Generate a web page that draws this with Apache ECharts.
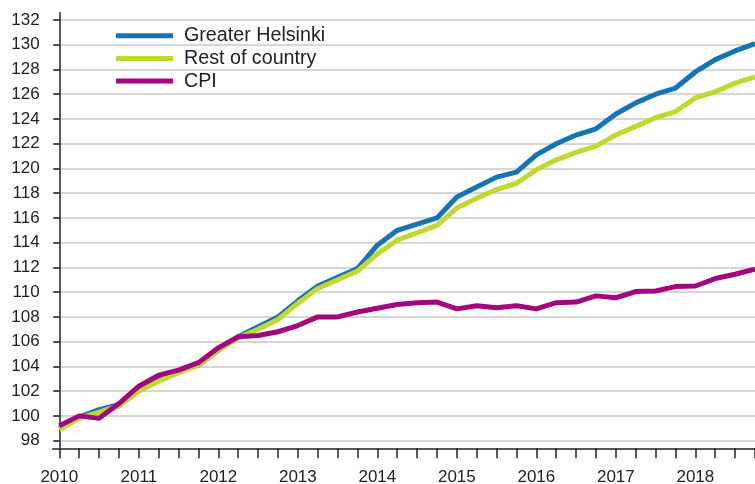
<!DOCTYPE html>
<html><head><meta charset="utf-8">
<script src="https://cdn.jsdelivr.net/npm/echarts@6/dist/echarts.min.js"></script>
<style>html,body{margin:0;padding:0;background:#fff}#c{width:755px;height:484px}</style>
</head><body><div id="c"></div>
<script>
const quarters = ['2010Q1','2010Q2','2010Q3','2010Q4','2011Q1','2011Q2','2011Q3','2011Q4',
  '2012Q1','2012Q2','2012Q3','2012Q4','2013Q1','2013Q2','2013Q3','2013Q4',
  '2014Q1','2014Q2','2014Q3','2014Q4','2015Q1','2015Q2','2015Q3','2015Q4',
  '2016Q1','2016Q2','2016Q3','2016Q4','2017Q1','2017Q2','2017Q3','2017Q4',
  '2018Q1','2018Q2','2018Q3','2018Q4'];
const seriesNames = ['Greater Helsinki','Rest of country','CPI'];
const greaterHelsinki = [99.0,99.9,100.5,100.9,102.2,103.0,103.6,104.1,105.3,106.4,107.2,108.0,
  109.3,110.5,111.2,111.9,113.8,115.0,115.5,116.0,117.7,118.5,119.3,119.7,
  121.1,122.0,122.7,123.2,124.4,125.3,126.0,126.5,127.8,128.8,129.5,130.1];
const restOfCountry = [98.9,99.8,100.3,100.8,102.0,102.8,103.5,104.1,105.3,106.3,107.0,107.8,
  109.1,110.3,111.0,111.7,113.1,114.2,114.8,115.4,116.8,117.6,118.3,118.8,
  119.9,120.7,121.3,121.8,122.7,123.4,124.1,124.6,125.7,126.2,126.9,127.4];
const cpi = [99.2,100.0,99.8,101.0,102.4,103.3,103.7,104.3,105.5,106.4,106.5,106.8,
  107.3,108.0,108.0,108.4,108.7,109.0,109.15,109.2,108.65,108.9,108.75,108.9,
  108.65,109.15,109.2,109.7,109.55,110.05,110.1,110.45,110.5,111.1,111.45,111.85];
const yTicks = [98,100,102,104,106,108,110,112,114,116,118,120,122,124,126,128,130,132];
const yearLabels = ['2010','2011','2012','2013','2014','2015','2016','2017','2018'];
const colors = ['#1574b3','#c3d82f','#a3077f'];

const font = 'Liberation Sans, Arial, sans-serif';
const tickIdx = quarters.map((q, i) => i);
const yearIdx = quarters.map((q, i) => i).filter(i => yearLabels.includes(quarters[i].slice(0,4)) && quarters[i].endsWith('Q1'));
const allData = [greaterHelsinki, restOfCountry, cpi];

const chart = echarts.init(document.getElementById('c'), null, {renderer: 'canvas'});
chart.setOption({
  animation: false,
  backgroundColor: '#fff',
  grid: {left: 52.7, right: 0, top: 12.7, bottom: 35.7, containLabel: false, outerBoundsMode: 'none'},
  legend: {
    orient: 'vertical', left: 116, top: 25.7, padding: 0,
    itemWidth: 57, itemHeight: 5, itemGap: 2.7, icon: 'rect',
    data: seriesNames,
    textStyle: {fontSize: 19.7, color: '#222', fontFamily: font, lineHeight: 20, padding: [0,0,0,6]}
  },
  xAxis: {
    type: 'value', min: -0.333, max: 35,
    axisLine: {show: true, lineStyle: {color: '#222', width: 1.5}},
    axisTick: {show: true, customValues: tickIdx, length: 10, lineStyle: {color: '#222', width: 1.5}},
    axisLabel: {customValues: yearIdx, formatter: v => quarters[Math.round(v)].slice(0,4),
      fontSize: 17, color: '#222', fontFamily: font, margin: 21},
    splitLine: {show: false}
  },
  yAxis: {
    type: 'value', min: 97.38, max: 132.59,
    axisLine: {show: true, lineStyle: {color: '#222', width: 1.5}},
    axisTick: {show: true, customValues: yTicks, length: 6, lineStyle: {color: '#222', width: 1.5}},
    axisLabel: {customValues: yTicks, fontSize: 17, color: '#222', fontFamily: font, margin: 13},
    splitLine: {show: true, lineStyle: {color: '#c8c8c8', width: 1.5}}
  },
  series: seriesNames.map((name, k) => ({
    name, type: 'line', symbol: 'none', color: colors[k],
    lineStyle: {width: 5, color: colors[k], join: 'round'},
    data: allData[k].map((v, i) => [i, v])
  }))
});
</script></body></html>
